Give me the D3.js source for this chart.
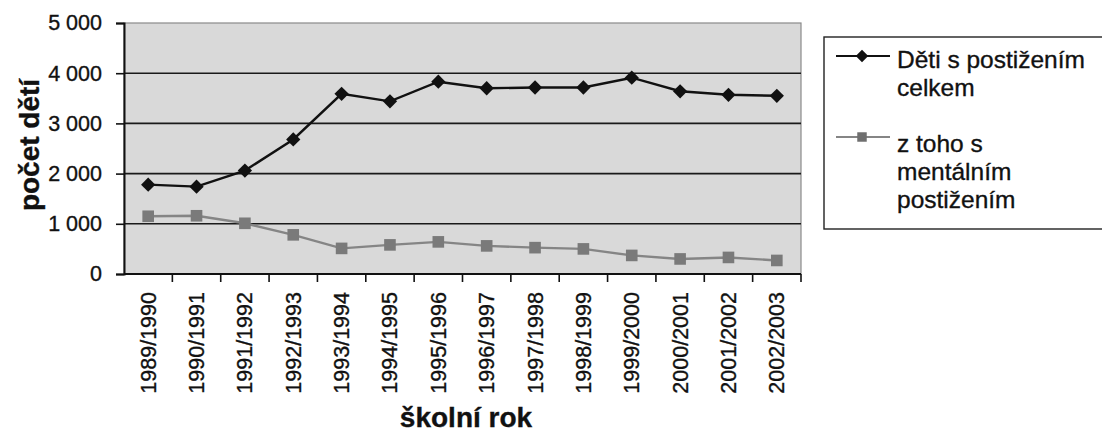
<!DOCTYPE html>
<html>
<head>
<meta charset="utf-8">
<script src="https://cdn.jsdelivr.net/npm/d3@7/dist/d3.min.js"></script>
<style>
  html, body { margin: 0; padding: 0; background: #ffffff; }
  svg { display: block; font-family: "Liberation Sans", Arial, sans-serif; }
  text { stroke: #111; stroke-width: 0.35px; }
</style>
</head>
<body>
<svg id="chart" width="1102" height="434"></svg>
<script>
// School years (category axis)
const years = ["1989/1990", "1990/1991", "1991/1992", "1992/1993", "1993/1994",
  "1994/1995", "1995/1996", "1996/1997", "1997/1998", "1998/1999",
  "1999/2000", "2000/2001", "2001/2002", "2002/2003"];

// Children with disabilities in total
const totalValues = [1780, 1740, 2060, 2680, 3590, 3440, 3830, 3700, 3715, 3715, 3910, 3640, 3570, 3550];

// Of which with mental disability
const mentalValues = [1150, 1160, 1010, 780, 510, 580, 640, 560, 525, 500, 370, 300, 330, 270];

const yTicks = [0, 1000, 2000, 3000, 4000, 5000];

const seriesNames = ["Děti s postižením celkem", "z toho s mentálním postižením"];
const legendLines = [["Děti s postižením", "celkem"], ["z toho s", "mentálním", "postižením"]];

const svg = d3.select("#chart");
const plot = { left: 124, right: 801, top: 23, bottom: 274 };

const x = d3.scaleBand().domain(years).range([plot.left, plot.right]).padding(0);
const y = d3.scaleLinear().domain([0, 5000]).range([plot.bottom, plot.top]);
const fmt = v => d3.format(",")(v).replace(/,/g, " ");

// Plot area background
svg.append("rect")
  .attr("x", plot.left).attr("y", plot.top)
  .attr("width", plot.right - plot.left).attr("height", plot.bottom - plot.top)
  .attr("fill", "#d9d9d9")
  .attr("stroke", "#8a8a8a").attr("stroke-width", 1.2);

// Horizontal gridlines
svg.append("g")
  .selectAll("line")
  .data(yTicks.filter(d => d > 0 && d < 5000))
  .join("line")
  .attr("x1", plot.left).attr("x2", plot.right)
  .attr("y1", d => y(d)).attr("y2", d => y(d))
  .attr("stroke", "#1a1a1a").attr("stroke-width", 1.6);

// Y axis
const yAxis = svg.append("g")
  .attr("transform", `translate(${plot.left},0)`)
  .call(d3.axisLeft(y).tickValues(yTicks).tickFormat(fmt).tickSize(8).tickPadding(14));
yAxis.select(".domain").attr("stroke", "#111").attr("stroke-width", 2);
yAxis.selectAll(".tick line").attr("stroke", "#111").attr("stroke-width", 1.6);
yAxis.selectAll(".tick text")
  .attr("font-size", 21.5).attr("fill", "#111")
  .style("font-family", "'Liberation Sans', Arial, sans-serif");

// X axis: ticks sit on category boundaries
const xAxisG = svg.append("g").attr("transform", `translate(0,${plot.bottom})`);
xAxisG.append("line")
  .attr("x1", plot.left).attr("x2", plot.right)
  .attr("stroke", "#111").attr("stroke-width", 2);
xAxisG.selectAll("line.tk")
  .data(years)
  .join("line")
  .attr("class", "tk")
  .attr("x1", d => x(d) + x.bandwidth()).attr("x2", d => x(d) + x.bandwidth())
  .attr("y1", 0).attr("y2", 8)
  .attr("stroke", "#111").attr("stroke-width", 1.6);
xAxisG.selectAll("text")
  .data(years)
  .join("text")
  .attr("transform", d => `translate(${x(d) + x.bandwidth() / 2},${18}) rotate(-90)`)
  .attr("dy", "0.35em")
  .attr("text-anchor", "end")
  .attr("font-size", 21.5)
  .attr("fill", "#111")
  .text(d => d);

// Axis titles
svg.append("text")
  .attr("transform", "translate(39,145) rotate(-90)")
  .attr("text-anchor", "middle")
  .attr("font-size", 28).attr("font-weight", "bold").attr("fill", "#111")
  .text("počet dětí");

svg.append("text")
  .attr("x", 466).attr("y", 427)
  .attr("text-anchor", "middle")
  .attr("font-size", 28).attr("font-weight", "bold").attr("fill", "#111")
  .text("školní rok");

// Series
const cx = d => x(d) + x.bandwidth() / 2;
const line = d3.line().x((d, i) => cx(years[i])).y(d => y(d));

const diamondSym = d3.symbol().type(d3.symbolDiamond2).size(130);
const squareSym = d3.symbol().type(d3.symbolSquare).size(135);

function drawSeries(values, color, markerColor, sym) {
  const g = svg.append("g");
  g.append("path")
    .datum(values)
    .attr("d", line)
    .attr("fill", "none")
    .attr("stroke", color)
    .attr("stroke-width", 2.4);
  g.selectAll("path.m")
    .data(values)
    .join("path")
    .attr("class", "m")
    .attr("transform", (d, i) => `translate(${cx(years[i])},${y(d)})`)
    .attr("d", sym)
    .attr("fill", markerColor);
}

drawSeries(mentalValues, "#858585", "#7a7a7a", squareSym);
drawSeries(totalValues, "#111111", "#111111", diamondSym);

// Legend
const legend = svg.append("g");
legend.append("rect")
  .attr("x", 824).attr("y", 37)
  .attr("width", 290).attr("height", 192)
  .attr("fill", "#ffffff")
  .attr("stroke", "#222").attr("stroke-width", 1.4);

const legendItems = [
  { name: seriesNames[0], lines: legendLines[0], color: "#111111", mColor: "#111111", sym: d3.symbol().type(d3.symbolDiamond2).size(100), my: 56, ty: 68 },
  { name: seriesNames[1], lines: legendLines[1], color: "#858585", mColor: "#6f6f6f", sym: d3.symbol().type(d3.symbolSquare).size(90), my: 137, ty: 152 }
];

legendItems.forEach(it => {
  const g = legend.append("g");
  g.append("line")
    .attr("x1", 836).attr("x2", 890)
    .attr("y1", it.my).attr("y2", it.my)
    .attr("stroke", it.color).attr("stroke-width", 2.2);
  g.append("path")
    .attr("transform", `translate(862,${it.my})`)
    .attr("d", it.sym)
    .attr("fill", it.mColor);
  const t = g.append("text")
    .attr("x", 897).attr("y", it.ty)
    .attr("font-size", 24.5).attr("fill", "#111");
  t.selectAll("tspan")
    .data(it.lines)
    .join("tspan")
    .attr("x", 897)
    .attr("dy", (d, i) => i === 0 ? 0 : 28)
    .text(d => d);
});
</script>
</body>
</html>
